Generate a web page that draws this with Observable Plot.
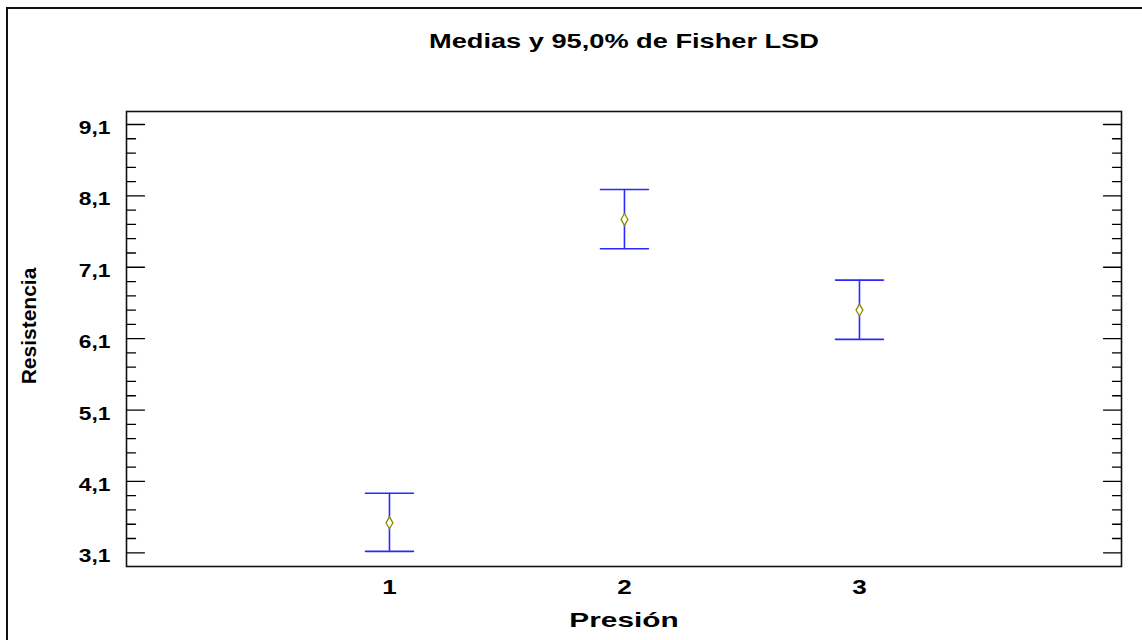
<!DOCTYPE html>
<html><head><meta charset="utf-8">
<script src="https://cdn.jsdelivr.net/npm/d3@7"></script>
<script src="https://cdn.jsdelivr.net/npm/@observablehq/plot@0.6"></script>
<style>
body{margin:0;background:#fff;}
#wrap{position:relative;width:1142px;height:640px;overflow:hidden;background:#fff;}
#border{position:absolute;left:6px;top:7px;width:1200px;height:700px;border:2px solid #111;box-sizing:border-box;}
#chart{position:absolute;left:0;top:0;}
</style></head><body>
<div id="wrap"><div id="border"></div><div id="chart"></div></div>
<script>
const title = "Medias y 95,0% de Fisher LSD";
const xLabel = "Presión";
const yLabel = "Resistencia";
const categories = [1, 2, 3];
const means = [3.52, 7.77, 6.50];
const lower = [3.12, 7.36, 6.09];
const upper = [3.935, 8.19, 6.92];
const majorTicks = [3.1, 4.1, 5.1, 6.1, 7.1, 8.1, 9.1];
const minorTicks = [3.3, 3.5, 3.7, 3.9, 4.3, 4.5, 4.7, 4.9, 5.3, 5.5, 5.7, 5.9,
  6.3, 6.5, 6.7, 6.9, 7.3, 7.5, 7.7, 7.9, 8.3, 8.5, 8.7, 8.9];

const data = categories.map((c, i) => ({cat: c, mean: means[i], lo: lower[i], hi: upper[i]}));
const fmt = d => d.toFixed(1).replace(".", ",");
const font = "Liberation Sans, Arial, sans-serif";
const blue = "#2a2aff";

function sideTicks(values, side, len) {
  return Plot.vector(values, {
    y: d => d, frameAnchor: side, rotate: side === "left" ? 90 : -90,
    length: len, anchor: "start", shape: "spike", r: 0,
    stroke: "#000", fill: "none", strokeWidth: 1.3
  });
}

const chart = Plot.plot({
  width: 1142, height: 640,
  marginLeft: 126, marginRight: 21, marginTop: 111, marginBottom: 74,
  style: {fontFamily: font, fontWeight: "bold", color: "#000", background: "transparent"},
  x: {domain: [-0.119, 4.115], axis: null},
  y: {domain: [2.908, 9.282], axis: null},
  marks: [
    Plot.frame({stroke: "#111", strokeWidth: 1.6}),
    Plot.axisY(majorTicks, {anchor: "left", tickSize: 0, tickPadding: 16, tickFormat: fmt,
      fontSize: 19, fontWeight: "bold", dy: 3.5, label: null}),
    Plot.axisX(categories, {anchor: "bottom", tickSize: 0, tickPadding: 13, tickFormat: d => String(d),
      fontSize: 20, fontWeight: "bold", label: null}),
    sideTicks(majorTicks, "left", 18),
    sideTicks(minorTicks, "left", 9),
    sideTicks(majorTicks, "right", 18),
    sideTicks(minorTicks, "right", 9),
    Plot.ruleX(data, {x: "cat", y1: "lo", y2: "hi", stroke: blue, strokeWidth: 1.6}),
    Plot.vector(data, {x: "cat", y: "lo", rotate: 90, length: 48, anchor: "middle", shape: "spike", r: 0,
      stroke: blue, fill: "none", strokeWidth: 1.6}),
    Plot.vector(data, {x: "cat", y: "hi", rotate: 90, length: 48, anchor: "middle", shape: "spike", r: 0,
      stroke: blue, fill: "none", strokeWidth: 1.6}),
    Plot.dot(data, {x: "cat", y: "mean", symbol: "diamond", r: 3.6, fill: "#fff", stroke: "#8c8c00", strokeWidth: 1.3}),
    Plot.text([title], {frameAnchor: "top", dy: -70, lineAnchor: "middle", textAnchor: "middle", fontSize: 20, fontWeight: "bold", fill: "#000"}),
    Plot.text([xLabel], {frameAnchor: "bottom", dy: 54, lineAnchor: "middle", textAnchor: "middle", fontSize: 21, fontWeight: "bold", fill: "#000"}),
    Plot.text([yLabel], {frameAnchor: "left", dx: -97, dy: -13, rotate: -90, lineAnchor: "middle", textAnchor: "middle", fontSize: 21, fontWeight: "bold", fill: "#000"})
  ]
});
document.getElementById("chart").appendChild(chart);

// horizontal stretch of the labels, as in the reference rendering
const stretch = (el, s) => {
  const L = el.getComputedTextLength();
  el.setAttribute("textLength", (L * s).toFixed(1));
  el.setAttribute("lengthAdjust", "spacingAndGlyphs");
};
chart.querySelectorAll("text").forEach(el => {
  const role = el.parentNode.getAttribute("aria-label") || "";
  const t = el.textContent;
  if (role.startsWith("y-axis")) stretch(el, 1.2);
  else if (role.startsWith("x-axis")) stretch(el, 1.3);
  else if (t === title) stretch(el, 1.36);
  else if (t === xLabel) stretch(el, 1.42);
});
</script>
</body></html>
